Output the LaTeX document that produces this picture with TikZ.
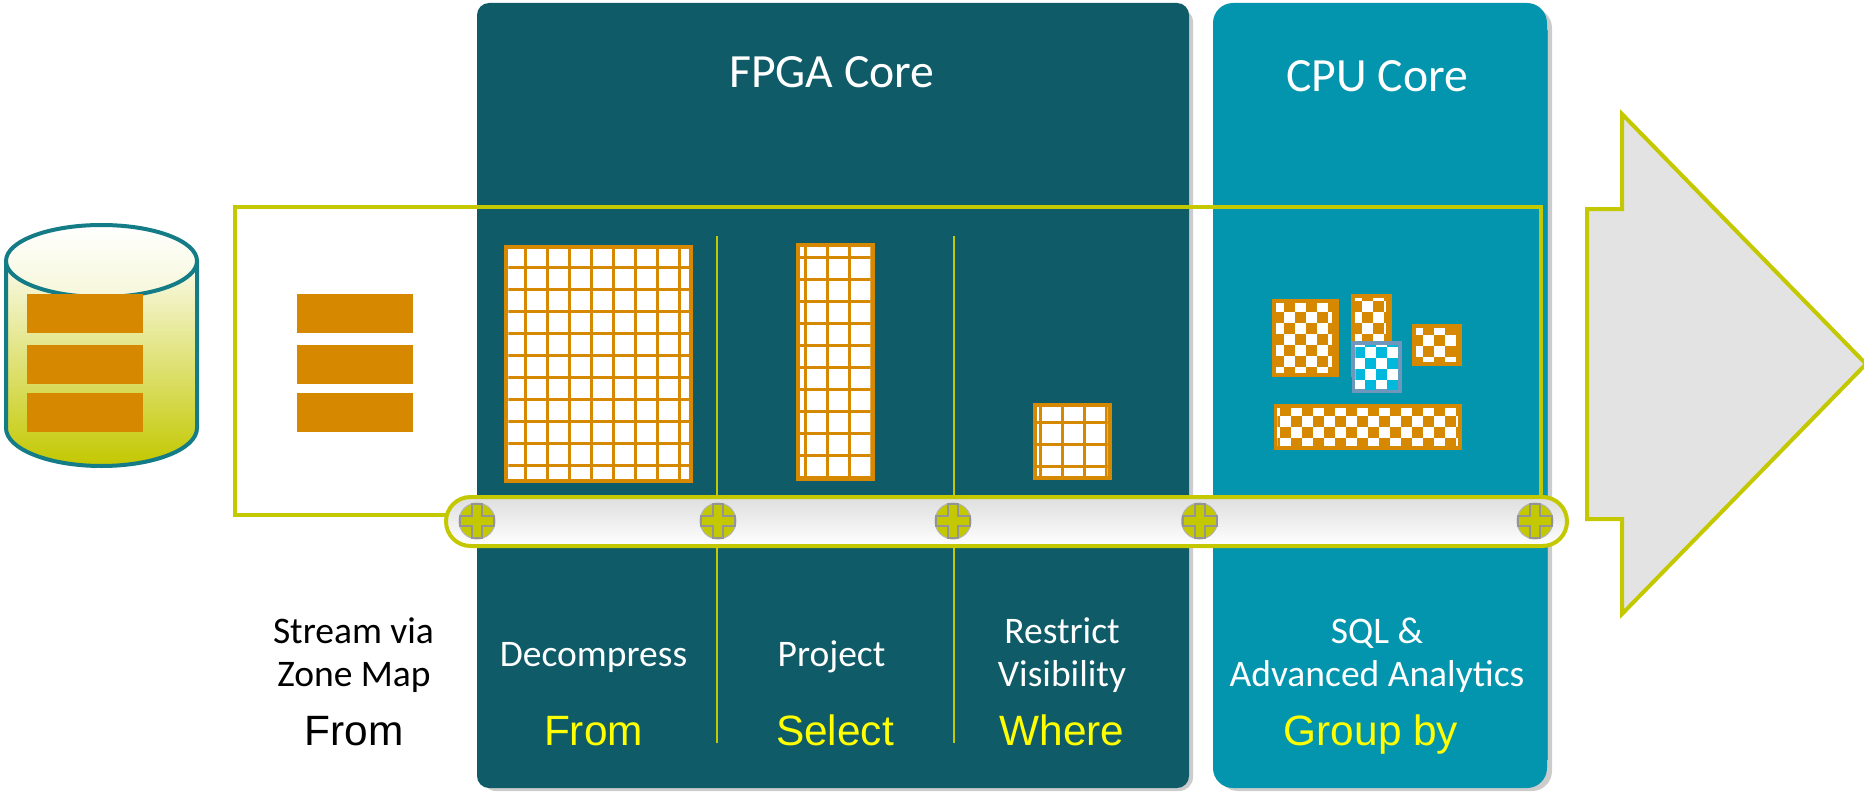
\documentclass[tikz,border=0pt]{standalone}
\usepackage{fontspec}
\setmainfont{Carlito}
\newfontfamily\arialf{Liberation Sans}
\definecolor{fpga}{HTML}{0F5C68}
\definecolor{cpu}{HTML}{0295AD}
\definecolor{yel}{HTML}{C3C800}
\definecolor{org}{HTML}{D68800}
\definecolor{cylb}{HTML}{147C87}
\definecolor{bluef}{HTML}{6F97BC}
\definecolor{cyanc}{HTML}{00B8DC}
\definecolor{txty}{HTML}{FFFF00}
\tikzset{
  yframe/.style={draw=yel,line width=4pt},
  barblock/.style={fill=org},
  lbl/.style={text=white,font=\fontsize{37.5}{37.5}\selectfont,anchor=base},
  lblk/.style={text=black,font=\fontsize{37.5}{37.5}\selectfont,anchor=base},
  titl/.style={text=white,font=\fontsize{47.7}{47.7}\selectfont,anchor=base},
  sql/.style={text=txty,font=\arialf\fontsize{42.4}{42.4}\selectfont,anchor=base},
  sqlk/.style={text=black,font=\arialf\fontsize{42.4}{42.4}\selectfont,anchor=base},
  shadowbox/.style={fill=black!20},
}
\newcommand{\gridblock}[6]{%
  \fill[org] (#1,#2) rectangle (#3,#4);
  \fill[white] (#1+4,#2+4) rectangle (#3-4,#4-4);
  \begin{scope}
    \clip (#1+4,#2+4) rectangle (#3-4,#4-4);
    \foreach \gx in {0,...,9} \fill[org] ({#5+22*\gx-1.5},#2) rectangle ({#5+22*\gx+1.5},#4);
    \foreach \gy in {0,...,11} \fill[org] (#1,{#6+22*\gy-1.5}) rectangle (#3,{#6+22*\gy+1.5});
  \end{scope}}
\newcommand{\checker}[7]{% ix0 iy0 ix1 iy1 ox oy darkcolour
  \fill[white] (#1,#2) rectangle (#3,#4);
  \begin{scope}
    \clip (#1,#2) rectangle (#3,#4);
    \foreach \ci in {-3,...,18} \foreach \cj in {-3,...,8} {
      \pgfmathtruncatemacro{\cpar}{mod(abs(\ci+\cj),2)}
      \ifnum\cpar=1
        \fill[#7] ({#5+11*\ci},{#6+11*\cj}) rectangle ({#5+11*\ci+11},{#6+11*\cj+11});
      \fi}
  \end{scope}}
\newcommand{\plusmark}[2]{%
  \begin{scope}[shift={(#1,#2)}]
    \fill[yel,draw=black!30,line width=1pt] (0,0) circle (18);
    \draw[fill=yel,draw=black!42,line width=2pt] (-5,-17)--(5,-17)--(5,-5)--(17,-5)--(17,5)--(5,5)--(5,17)--(-5,17)--(-5,5)--(-17,5)--(-17,-5)--(-5,-5)--cycle;
  \end{scope}}
\begin{document}
\begin{tikzpicture}[x=1pt,y=-1pt]
\useasboundingbox (0,0) rectangle (1864,792);
\clip (0,0) rectangle (1864,792);
% panels
\fill[shadowbox,rounded corners=14] (482,8) rectangle (1193,791);
\fill[fpga,rounded corners=12] (477,3) rectangle (1189,788);
\fill[shadowbox,rounded corners=20] (1218,8) rectangle (1552,791);
\fill[cpu,rounded corners=20] (1213,3) rectangle (1547,788);
\draw[cyanc!70!cpu,line width=1pt] (1547,30) -- (1547,760);
% separators
\draw[draw=yel,line width=2pt] (717,236) -- (717,743);
\draw[draw=yel,line width=2pt] (953.5,236) -- (953.5,743);
% cylinder
\shade[top color=white!92!yel,bottom color=yel] (6,261) -- (6,428) arc[start angle=180,end angle=0,x radius=95.5,y radius=38] -- (197,261) -- cycle;
\draw[cylb,line width=4pt] (6,261) -- (6,428) arc[start angle=180,end angle=0,x radius=95.5,y radius=38] -- (197,261);
\shade[top color=white,bottom color=white!85!yel] (101.5,261) ellipse [x radius=95.5,y radius=36];
\draw[cylb,line width=4pt] (101.5,261) ellipse [x radius=95.5,y radius=36];
% orange bars
\foreach \by in {294,345,393} {
  \fill[barblock] (27,\by) rectangle (143,\by+39);
  \fill[barblock] (297,\by) rectangle (413,\by+39);
}
% grids
\gridblock{504.3}{245}{693}{483}{525.3}{267.3}
\gridblock{795.7}{243.3}{874.7}{480.7}{805.3}{257.3}
\gridblock{1033}{403.3}{1111.7}{480.3}{1040.3}{422.3}
% checkers
\fill[org] (1272,299.3) rectangle (1339,376.7);
\checker{1276}{303.3}{1332}{372.7}{1284}{312}{org}
\fill[org] (1351,294) rectangle (1392,377);
\checker{1355}{298}{1386}{377}{1362}{301}{org}
\fill[org] (1412,324) rectangle (1461.7,366.3);
\checker{1416}{328.3}{1456}{362}{1423}{335}{org}
\fill[bluef] (1351.7,341) rectangle (1402,393);
\checker{1355.3}{345}{1398}{389}{1365}{347}{cyanc}
\fill[org] (1273.7,404) rectangle (1462,450.3);
\checker{1277.3}{408}{1458.3}{446.3}{1280}{416}{org}
% yellow frame
\draw[yframe] (1541,500) -- (1541,207) -- (235,207) -- (235,515) -- (460,515);
% bar
\shade[top color=black!13,bottom color=white,rounded corners=24.5] (446,497) rectangle (1567,546);
\draw[yel,line width=4pt,rounded corners=24.5] (446,497) rectangle (1567,546);
\plusmark{477}{521}
\plusmark{718}{521}
\plusmark{953}{521}
\plusmark{1199.5}{521}
\plusmark{1535}{521}
% arrow
\draw[fill=black!11,draw=yel,line width=4pt,line join=miter] (1587,209) -- (1622,209) -- (1622,114) -- (1866,364) -- (1622,614) -- (1622,519) -- (1587,519) -- cycle;
% text
\node[titl] (fpgat) at (832,87.5) {FPGA Core};
\node[titl] (cput) at (1377,91.5) {CPU Core};
\node[lblk] (s1) at (353.5,643.5) {Stream via};
\node[lblk] (s2) at (354,686) {Zone Map};
\node[sqlk] (f0) at (354,745.5) {From};
\node[lbl] (d) at (593.5,666) {Decompress};
\node[lbl] (p) at (831.5,666) {Project};
\node[lbl] (r1) at (1062,643.5) {Restrict};
\node[lbl] (r2) at (1062,686) {Visibility};
\node[lbl] (q1) at (1377,643.5) {SQL \&};
\node[lbl] (q2) at (1377,686) {Advanced Analytics};
\node[sql] (f1) at (593.5,745.5) {From};
\node[sql] (f2) at (835,745.5) {Select};
\node[sql] (f3) at (1062,745.5) {Where};
\node[sql] (f4) at (1371,745.5) {Group by};
\end{tikzpicture}
\end{document}
